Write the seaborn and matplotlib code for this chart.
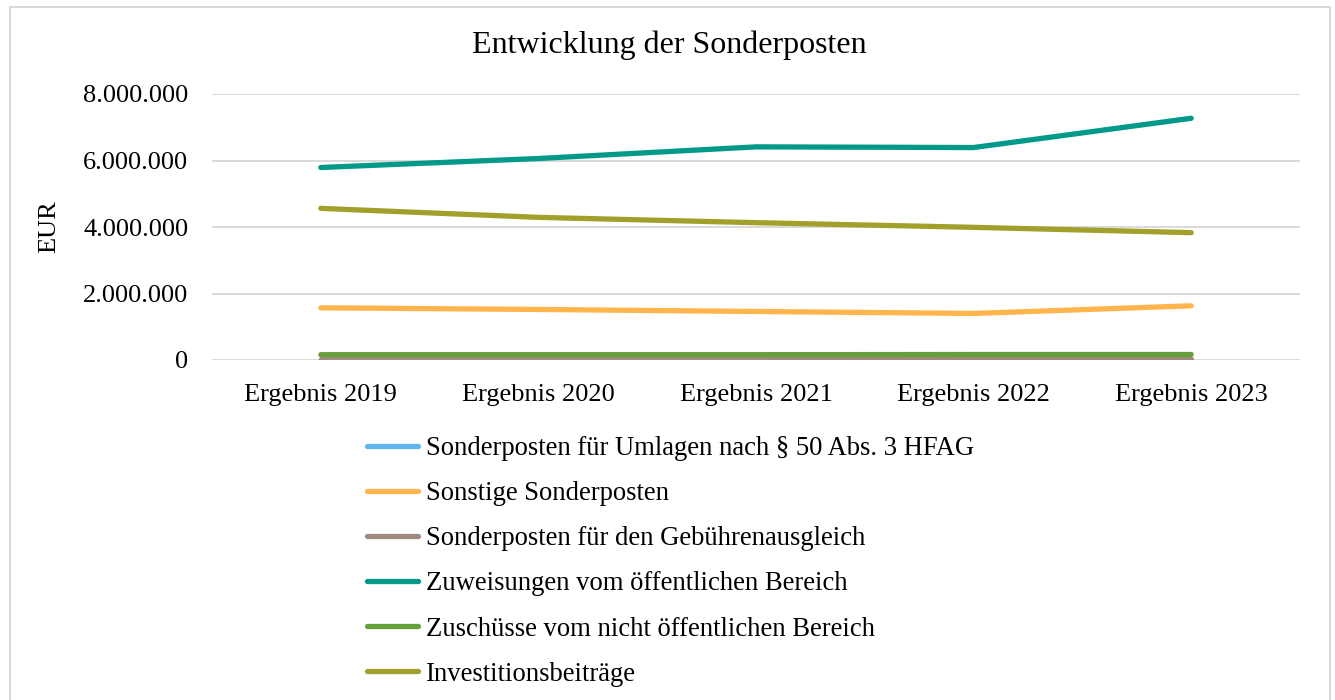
import matplotlib
matplotlib.use("Agg")
import matplotlib.pyplot as plt
import matplotlib.ticker as mticker
from matplotlib.patches import Rectangle
from matplotlib.lines import Line2D
import seaborn as sns
import pandas as pd

years = ["Ergebnis 2019", "Ergebnis 2020", "Ergebnis 2021", "Ergebnis 2022", "Ergebnis 2023"]
series_names = [
    "Sonderposten für Umlagen nach § 50 Abs. 3 HFAG",
    "Sonstige Sonderposten",
    "Sonderposten für den Gebührenausgleich",
    "Zuweisungen vom öffentlichen Bereich",
    "Zuschüsse vom nicht öffentlichen Bereich",
    "Investitionsbeiträge",
]
umlagen = [0, 0, 0, 0, 0]
sonstige = [1570000, 1520000, 1460000, 1400000, 1630000]
gebuehren = [20000, 20000, 20000, 20000, 20000]
zuweisungen = [5790000, 6060000, 6410000, 6390000, 7270000]
zuschuesse = [160000, 160000, 160000, 165000, 165000]
investition = [4560000, 4290000, 4130000, 3990000, 3830000]
colors = ["#62B5F0", "#FFB54C", "#A08A80", "#00998A", "#66A03A", "#A0A02A"]

all_values = [umlagen, sonstige, gebuehren, zuweisungen, zuschuesse, investition]
rows = []
for name, vals in zip(series_names, all_values):
    for y, v in zip(years, vals):
        rows.append({"Jahr": y, "Wert": v, "Serie": name})
df = pd.DataFrame(rows)

sns.set_style("white")
plt.rcParams["font.family"] = ["Liberation Serif", "DejaVu Serif"]
plt.rcParams["text.color"] = "black"
plt.rcParams["axes.labelcolor"] = "black"

fig = plt.figure(figsize=(13.35, 7.0), dpi=100)
ax = fig.add_axes([212 / 1335, 1 - 360 / 700, (1300 - 212) / 1335, (360 - 94) / 700])

sns.lineplot(data=df, x="Jahr", y="Wert", hue="Serie", hue_order=series_names,
             palette=colors, linewidth=3.8, sort=False, ax=ax, legend=False,
             solid_capstyle="round")

ax.set_xlim(-0.5, 4.5)
ax.set_ylim(0, 8000000)
ax.set_yticks([0, 2000000, 4000000, 6000000, 8000000])
ax.yaxis.set_major_formatter(mticker.FuncFormatter(lambda v, p: f"{int(v):,}".replace(",", ".")))
ax.grid(axis="y", color="#d9d9d9", linewidth=1.4)
ax.grid(axis="x", visible=False)
ax.set_axisbelow(True)
for s in ax.spines.values():
    s.set_visible(False)
ax.tick_params(axis="both", length=0, labelsize=19, colors="black")
ax.tick_params(axis="y", pad=17)
ax.tick_params(axis="x", pad=17.5)
ax.set_xlabel("")
ax.set_ylabel("EUR", fontsize=19, color="black")
ax.yaxis.set_label_coords((60 - 212) / 1088, 0.5)

fig.text((473 + 866) / 2 / 1335, 1 - 45 / 700, "Entwicklung der Sonderposten",
         ha="center", va="center", fontsize=23, color="black")

handles = [Line2D([0], [0], color=c, linewidth=3.8, solid_capstyle="round") for c in colors]
fig.legend(handles, series_names, loc="upper left", bbox_to_anchor=(367 / 1335, 1 - 436 / 700),
           frameon=False, fontsize=19.2, handlelength=1.9, handletextpad=0.3,
           labelspacing=0.755, borderaxespad=0, borderpad=0, labelcolor="black")

fig.patches.append(Rectangle((10 / 1335, -0.05), 1320 / 1335, (700 - 7) / 700 + 0.05,
                             transform=fig.transFigure, fill=False,
                             edgecolor="#d9d9d9", linewidth=1.5))

fig.savefig("out.png", dpi=100, facecolor="white")
